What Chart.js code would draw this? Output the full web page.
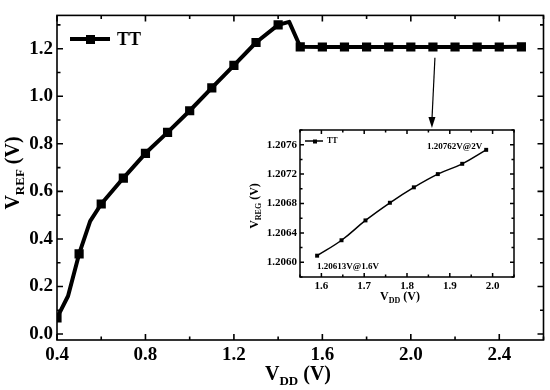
<!DOCTYPE html>
<html>
<head>
<meta charset="utf-8">
<script src="https://cdn.jsdelivr.net/npm/chart.js@4.4.1/dist/chart.umd.min.js"></script>
<style>
  html, body { margin: 0; padding: 0; background: #fff; }
  #wrap { position: relative; width: 550px; height: 390px; }
  #wrap canvas { position: absolute; left: 0; top: 0; }
</style>
</head>
<body>
<div id="wrap">
  <canvas id="main" width="550" height="390"></canvas>
  <canvas id="inset" width="550" height="390"></canvas>
</div>
<script>
// main curve: V_REF vs V_DD, TT corner
const vdd = [0.4, 0.45, 0.5, 0.55, 0.6, 0.7, 0.8, 0.9, 1.0, 1.1, 1.2, 1.3, 1.4, 1.45, 1.5,
             1.6, 1.7, 1.8, 1.9, 2.0, 2.1, 2.2, 2.3, 2.4, 2.5];
const vref = [0.068, 0.16, 0.337, 0.475, 0.547, 0.656, 0.760, 0.848, 0.939, 1.035, 1.130, 1.226, 1.300, 1.313, 1.208,
              1.207, 1.207, 1.207, 1.207, 1.207, 1.207, 1.207, 1.207, 1.207, 1.208];

// inset: zoom of the regulated part
const insetVdd = [1.59, 1.647, 1.703, 1.760, 1.816, 1.872, 1.929, 1.985];
const insetVreg = [1.20609, 1.20630, 1.20657, 1.20681, 1.20702, 1.20720, 1.20734, 1.20753];

const seriesName = "TT";
const noteHigh = "1.20762V@2V";
const noteLow = "1.20613V@1.6V";

const SERIF = '"Liberation Serif", "Times New Roman", serif';
const INSET = { left: 300, top: 130, right: 514, bottom: 277 };

function subText(ctx, cx, cy, base, sub, tail, size, subSize, rotate) {
  ctx.save();
  ctx.translate(cx, cy);
  if (rotate) ctx.rotate(-Math.PI / 2);
  const f1 = `bold ${size}px ${SERIF}`, f2 = `bold ${subSize}px ${SERIF}`;
  ctx.font = f1;
  const w1 = ctx.measureText(base).width, w3 = ctx.measureText(tail).width;
  ctx.font = f2;
  const w2 = ctx.measureText(sub).width;
  let x = -(w1 + w2 + w3) / 2;
  const by = size * 0.35;
  ctx.fillStyle = '#000';
  ctx.textAlign = 'left';
  ctx.textBaseline = 'alphabetic';
  ctx.font = f1; ctx.fillText(base, x, by); x += w1;
  ctx.font = f2; ctx.fillText(sub, x, by + size * 0.25); x += w2;
  ctx.font = f1; ctx.fillText(tail, x, by);
  ctx.restore();
}

// inward ticks on all four sides + frame
function framePlugin(major, minor, lw) {
  return {
    id: 'frame',
    afterDraw(chart) {
      const { ctx, chartArea: a, scales: { x, y } } = chart;
      ctx.save();
      ctx.strokeStyle = '#000';
      ctx.lineWidth = lw;
      ctx.beginPath();
      x.ticks.forEach(t => {
        const px = x.getPixelForValue(t.value);
        const len = t.label ? major : minor;
        ctx.moveTo(px, a.bottom); ctx.lineTo(px, a.bottom - len);
        ctx.moveTo(px, a.top); ctx.lineTo(px, a.top + len);
      });
      y.ticks.forEach(t => {
        const py = y.getPixelForValue(t.value);
        const len = t.label ? major : minor;
        ctx.moveTo(a.left, py); ctx.lineTo(a.left + len, py);
        ctx.moveTo(a.right, py); ctx.lineTo(a.right - len, py);
      });
      ctx.stroke();
      ctx.strokeRect(a.left, a.top, a.width, a.height);
      ctx.restore();
    }
  };
}

const mainDecor = {
  id: 'mainDecor',
  afterDraw(chart) {
    const { ctx, chartArea: a, scales: { x, y } } = chart;
    ctx.save();
    // legend
    ctx.strokeStyle = '#000';
    ctx.fillStyle = '#000';
    ctx.lineWidth = 4;
    ctx.beginPath(); ctx.moveTo(70, 39); ctx.lineTo(110, 39); ctx.stroke();
    ctx.fillRect(86, 35, 9, 9);
    ctx.font = `bold 18px ${SERIF}`;
    ctx.textBaseline = 'middle';
    ctx.fillText(seriesName, 117, 40);
    // arrow to inset
    const ax = x.getPixelForValue(2.1) + 2;
    const ay = y.getPixelForValue(1.208) + 11;
    const bx = ax - 3, by = INSET.top - 2;
    ctx.lineWidth = 1.2;
    ctx.beginPath(); ctx.moveTo(ax, ay); ctx.lineTo(bx, by - 8); ctx.stroke();
    ctx.beginPath(); ctx.moveTo(bx, by); ctx.lineTo(bx - 3.5, by - 11); ctx.lineTo(bx + 3.5, by - 11); ctx.closePath(); ctx.fill();
    ctx.restore();
    // axis titles
    subText(ctx, 298, 373, 'V', 'DD', ' (V)', 20, 13, false);
    subText(ctx, 12, 173, 'V', 'REF', ' (V)', 20, 13, true);
  }
};

const tickFont = { family: SERIF, size: 19, weight: 'bold' };

new Chart(document.getElementById('main'), {
  type: 'line',
  data: {
    datasets: [{
      label: seriesName,
      data: vdd.map((v, i) => ({ x: v, y: vref[i] })),
      borderColor: '#000',
      backgroundColor: '#000',
      borderWidth: 4,
      borderJoinStyle: 'round',
      pointStyle: 'rect',
      pointRadius: ctx => (Math.round(ctx.raw.x * 100) % 10 === 0 ? 6.5 : 0),
      pointBorderWidth: 0,
      tension: 0
    }]
  },
  options: {
    responsive: false,
    animation: false,
    devicePixelRatio: 1,
    layout: { padding: { left: 0, top: 5, right: 4, bottom: 0 } },
    plugins: { legend: { display: false }, tooltip: { enabled: false } },
    scales: {
      x: {
        type: 'linear', min: 0.4, max: 2.6,
        grid: { display: false, drawTicks: false }, border: { display: false },
        ticks: {
          stepSize: 0.2, includeBounds: false, padding: 4, autoSkip: false, maxRotation: 0,
          color: '#000', font: tickFont,
          callback: v => (Math.round(v * 10) % 4 === 0 ? v.toFixed(1) : '')
        },
        afterFit: s => { s.height = 50; }
      },
      y: {
        type: 'linear', min: -0.025, max: 1.34,
        grid: { display: false, drawTicks: false }, border: { display: false },
        ticks: {
          stepSize: 0.1, includeBounds: false, padding: 4, autoSkip: false,
          color: '#000', font: tickFont,
          callback: v => (Math.round(v * 10) % 2 === 0 ? v.toFixed(1) : '')
        },
        afterFit: s => { s.width = 57; }
      }
    }
  },
  plugins: [framePlugin(6, 3.5, 1.6), mainDecor]
});

const insetBg = {
  id: 'insetBg',
  beforeDraw(chart) {
    const { ctx, chartArea: a } = chart;
    ctx.save();
    ctx.fillStyle = '#fff';
    ctx.fillRect(a.left, a.top, a.width, a.height);
    ctx.restore();
  }
};

const insetDecor = {
  id: 'insetDecor',
  afterDraw(chart) {
    const { ctx, chartArea: a, scales: { x, y } } = chart;
    ctx.save();
    ctx.strokeStyle = '#000';
    ctx.fillStyle = '#000';
    ctx.lineWidth = 1.5;
    ctx.beginPath(); ctx.moveTo(a.left + 5, a.top + 11); ctx.lineTo(a.left + 23, a.top + 11); ctx.stroke();
    ctx.fillRect(a.left + 13, a.top + 9.5, 4, 4);
    ctx.font = `bold 8px ${SERIF}`;
    ctx.textBaseline = 'middle';
    ctx.fillText(seriesName, a.left + 27, a.top + 11);
    // point notes
    const n = insetVdd.length - 1;
    ctx.font = `bold 9px ${SERIF}`;
    ctx.textAlign = 'right';
    ctx.fillText(noteHigh, x.getPixelForValue(insetVdd[n]) - 4, y.getPixelForValue(insetVreg[n]) - 3);
    ctx.textAlign = 'left';
    ctx.fillText(noteLow, x.getPixelForValue(insetVdd[0]), y.getPixelForValue(insetVreg[0]) + 11);
    ctx.restore();
    subText(ctx, 400, 296, 'V', 'DD', ' (V)', 12, 8, false);
    subText(ctx, 254, 206, 'V', 'REG', ' (V)', 12, 8, true);
  }
};

const insetFont = { family: SERIF, size: 11, weight: 'bold' };

new Chart(document.getElementById('inset'), {
  type: 'line',
  data: {
    datasets: [{
      label: seriesName,
      data: insetVdd.map((v, i) => ({ x: v, y: insetVreg[i] })),
      borderColor: '#000',
      backgroundColor: '#000',
      borderWidth: 1.5,
      pointStyle: 'rect',
      pointRadius: 2.8,
      pointBorderWidth: 0,
      tension: 0.4
    }]
  },
  options: {
    responsive: false,
    animation: false,
    devicePixelRatio: 1,
    layout: { padding: { left: INSET.left - 60, top: INSET.top, right: 550 - INSET.right, bottom: 390 - INSET.bottom - 30 } },
    plugins: { legend: { display: false }, tooltip: { enabled: false } },
    scales: {
      x: {
        type: 'linear', min: 1.55, max: 2.05,
        grid: { display: false, drawTicks: false }, border: { display: false },
        ticks: {
          stepSize: 0.05, includeBounds: false, padding: 3, autoSkip: false, maxRotation: 0,
          color: '#000', font: insetFont,
          callback: v => (Math.round(v * 100) % 10 === 0 ? v.toFixed(1) : '')
        },
        afterFit: s => { s.height = 30; }
      },
      y: {
        type: 'linear', min: 1.2058, max: 1.2078,
        grid: { display: false, drawTicks: false }, border: { display: false },
        ticks: {
          stepSize: 0.0002, includeBounds: false, padding: 3, autoSkip: false,
          color: '#000', font: insetFont,
          callback: v => (Math.round(v * 10000) % 4 === 0 ? v.toFixed(4) : '')
        },
        afterFit: s => { s.width = 60; }
      }
    }
  },
  plugins: [insetBg, framePlugin(4, 2.5, 1.5), insetDecor]
});
</script>
</body>
</html>
